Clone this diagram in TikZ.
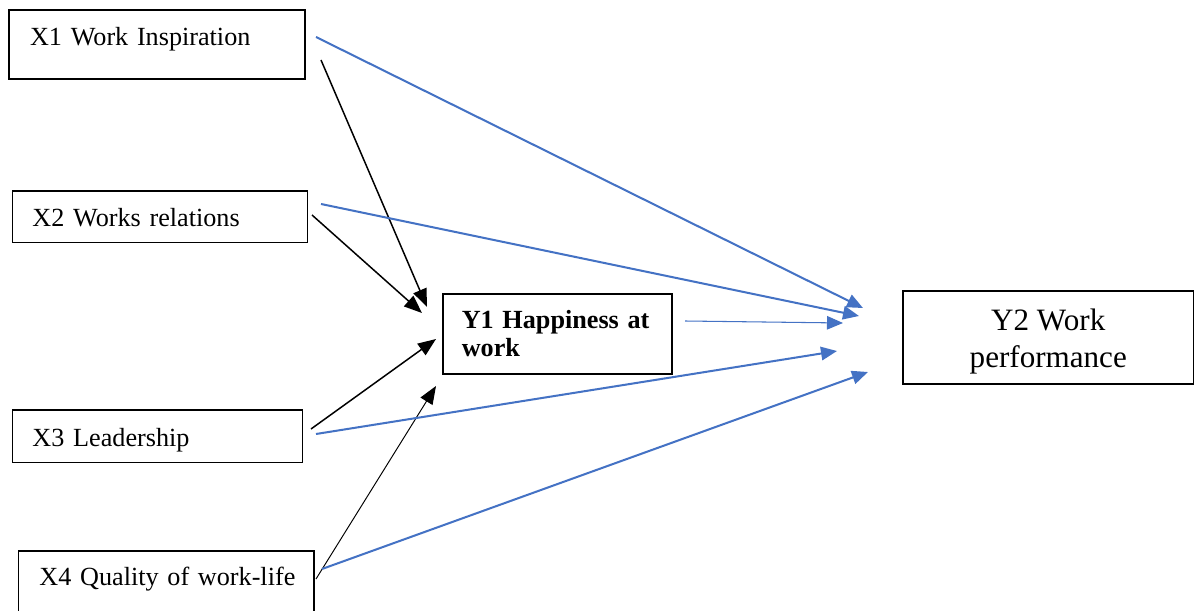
\documentclass[tikz,border=0pt]{standalone}
\usepackage{fontspec}
\setmainfont{Liberation Serif}
\usepackage{xcolor}
\usepackage{tikz}
\usetikzlibrary{positioning,calc,arrows.meta}

\definecolor{linkblue}{RGB}{68,114,196}

\tikzset{
    factor/.style={draw, line width=0.9pt, anchor=north west, inner ysep=0pt, align=left,
        font=\fontsize{14.9}{16}\selectfont},
    tohappy/.style={-{Triangle[length=0.36cm,width=0.28cm]}, line width=0.85pt, black},
    toperf/.style={-{Triangle[length=0.32cm,width=0.27cm]}, line width=1.15pt, linkblue}
}

\begin{document}
\begin{tikzpicture}[x=0.02cm, y=-0.02cm]
    \useasboundingbox (0,0) rectangle (1194,611);

    % Independent variables
    \node[factor, inner xsep=0.42cm, text width=5.074cm, text height=0.714cm, text depth=0.666cm]
        (x1) at (8.3,9.3) {X1 Work Inspiration};
    \node[factor, inner xsep=0.4cm, text width=5.1cm, text height=0.714cm, text depth=0.32cm]
        (x2) at (11.7,190) {X2 Works relations};
    \node[factor, inner xsep=0.4cm, text width=5.0cm, text height=0.728cm, text depth=0.32cm]
        (x3) at (11.7,409.3) {X3 Leadership};
    \node[factor, inner xsep=0.42cm, text width=5.07cm, text height=0.7cm, text depth=0.9cm]
        (x4) at (17.7,550) {\mbox{X4 Quality of work-life}};

    % Mediator
    \node[factor, inner xsep=0.38cm, text width=3.82cm, minimum height=1.6cm,
        font=\fontsize{14.9}{15.9}\selectfont\bfseries]
        (y1) at (442,293) {Y1 Happiness at\\work};

    % Outcome
    \node[factor, align=center, minimum width=5.82cm, minimum height=1.86cm,
        font=\fontsize{17.7}{21.2}\selectfont]
        (y2) at (902,290) {\rule{0pt}{16.8pt}Y2 Work\\performance};

    % Free ends of the arrows
    \coordinate (x1k) at (321,60);
    \coordinate (x2k) at (312,215);
    \coordinate (x3k) at (311,429);
    \coordinate (x4k) at (316,579);
    \coordinate (x1b) at (316,37);
    \coordinate (x2b) at (321,204);
    \coordinate (x3b) at (316,434);
    \coordinate (x4b) at (322,569);
    \coordinate (y1b) at (685,321);
    \coordinate (y1in1) at (427,307);
    \coordinate (y1in2) at (422,313);
    \coordinate (y1in3) at (436,339);
    \coordinate (y1in4) at (436,386);
    \coordinate (y2in1) at (863,308);
    \coordinate (y2in2) at (859,316);
    \coordinate (y2in3) at (837,351);
    \coordinate (y2in4) at (868,372);
    \coordinate (y2in5) at (843,323);

    % Paths to happiness
    \draw[tohappy] (x1k) -- (y1in1);
    \draw[tohappy] (x2k) -- (y1in2);
    \draw[tohappy] (x3k) -- (y1in3);
    \draw[tohappy, line width=0.55pt] (x4k) -- (y1in4);

    % Paths to performance
    \draw[toperf] (x1b) -- (y2in1);
    \draw[toperf] (x2b) -- (y2in2);
    \draw[toperf] (x3b) -- (y2in3);
    \draw[toperf] (x4b) -- (y2in4);
    \draw[toperf, line width=0.6pt] (y1b) -- (y2in5);
\end{tikzpicture}
\end{document}
